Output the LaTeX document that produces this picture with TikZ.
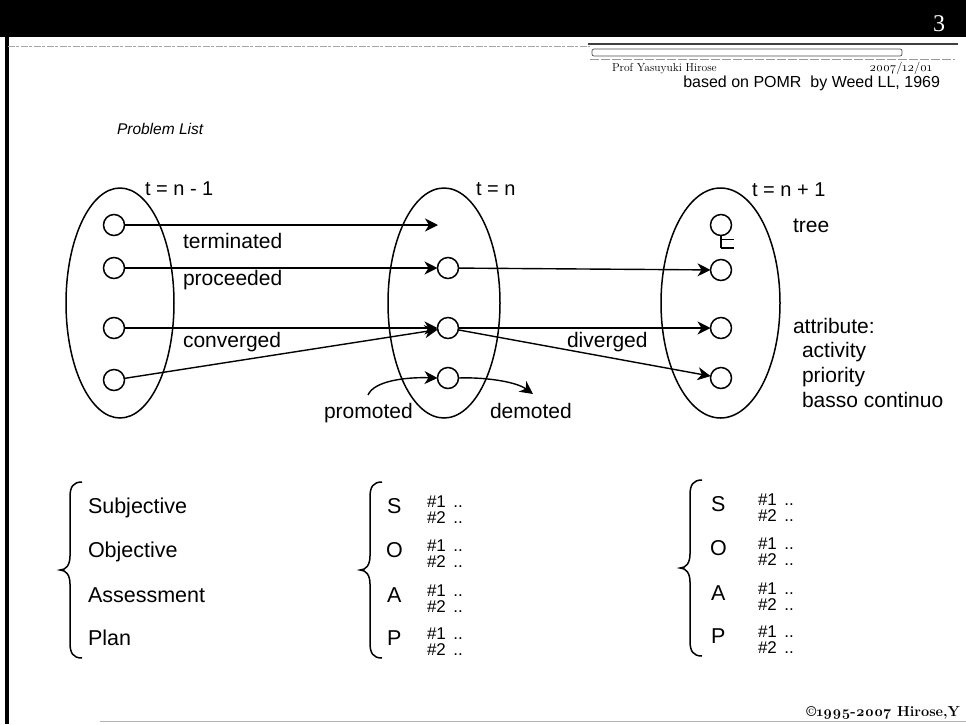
\documentclass[tikz,border=0pt]{standalone}
\usepackage{fontspec}
\setmainfont{Liberation Sans}
\newfontfamily\hdrfont{Liberation Serif}
\newfontfamily\numfont[Numbers=OldStyle]{Latin Modern Roman}
\usetikzlibrary{shapes.geometric,arrows.meta}

\begin{document}
\begin{tikzpicture}[x=1pt,y=-1pt,
  every node/.style={inner sep=0pt,outer sep=0pt},
  phase/.style={ellipse,draw,line width=1.5pt,minimum width=#1,minimum height=230pt},
  item/.style={circle,draw,line width=1.5pt,minimum size=21pt,fill=white},
  flow/.style={line width=1.4pt,-{Stealth[length=13pt,width=13pt,inset=4pt]}},
  lbl/.style={font=\fontsize{21}{25}\selectfont,anchor=base west},
  tlbl/.style={font=\fontsize{20}{24}\selectfont,anchor=base west},
  soap/.style={font=\fontsize{21.5}{25}\selectfont,anchor=base west},
  idx/.style={font=\fontsize{17}{19}\selectfont,anchor=base west},
  pics/curly/.style={code={
    \draw[line width=1.5pt]
      (22,-88) .. controls (13,-88) and (10,-83) .. (10,-73)
      -- (10,-14) .. controls (10,-5) and (6,0) .. (0,0)
      .. controls (6,0) and (10,5) .. (10,14)
      -- (10,73) .. controls (10,83) and (13,88) .. (22,88);
  }}
]
\useasboundingbox (0,0) rectangle (966,724);

% header band and page frame
\fill (0,0) rectangle (966,37);
\node[text=white,font=\hdrfont\fontsize{24}{26}\selectfont,anchor=base east] (pg) at (945,31) {3};
\fill (5,37) rectangle (8.5,724);
\draw[gray!70,line width=0.8pt,dash pattern=on 7pt off 1pt on 3pt off 2pt] (8,46) -- (590,46);
\draw[black!75,line width=1.8pt] (588,44) -- (958,44);
\draw[black!70,line width=0.7pt,rounded corners=2pt] (592,49) rectangle (902,56);
\draw[gray!80,line width=0.6pt,dash pattern=on 9pt off 2pt] (590,59.5) -- (955,59.5);
\draw[gray!60,line width=1pt] (100,721) -- (966,721);

\node[font=\numfont\fontsize{11.5}{13}\selectfont,anchor=base west] (auth) at (612,71) {Prof Yasuyuki Hirose};
\node[font=\numfont\fontsize{12.5}{14}\selectfont,anchor=base east] (date) at (932,71) {2007/12/01};
\node[font=\fontsize{16}{19}\selectfont,anchor=base east] (src) at (940,87) {based on POMR\ \ by Weed LL, 1969};
\node[font=\numfont\bfseries\fontsize{14.5}{17}\selectfont,anchor=base east] (copy) at (960,716) {\textcopyright 1995-2007 Hirose,Y};

\node[font=\itshape\fontsize{15.5}{18}\selectfont,anchor=base west] (title) at (117,134) {Problem List};

% three time slices
\node[phase=108pt] (e1) at (120,303) {};
\node[phase=112pt] (e2) at (444,303) {};
\node[phase=119pt] (e3) at (720.5,303) {};

\node[tlbl] (t1) at (145,195) {t = n - 1};
\node[tlbl] (t2) at (476,195) {t = n};
\node[tlbl] (t3) at (752,196) {t = n + 1};

% problems
\node[item] (l1) at (114,225) {};
\node[item] (l2) at (114,268) {};
\node[item] (l3) at (114,328) {};
\node[item] (l4) at (114,380) {};
\node[item] (m1) at (448,268) {};
\node[item] (m2) at (448,328) {};
\node[item] (m3) at (448,378) {};
\node[item] (r0) at (721,225) {};
\node[item] (r1) at (721,270) {};
\node[item] (r2) at (721,328) {};
\node[item] (r3) at (721,378) {};

% tree mark under the top problem
\coordinate (tk) at (721,248);
\draw[line width=1.2pt] (r0.south) -- (tk);
\draw[line width=1.2pt] (721,239.5) -- (734,239.5);
\draw[line width=1.2pt] (tk) -- (734,248);

% transitions
\coordinate (endterm) at (438,225);
\draw[flow] (l1) -- (endterm);
\draw[flow] (l2) -- (m1);
\draw[flow] (l3) -- (m2);
\draw[flow] (l4) -- (m2);
\draw[flow] (m1) -- (r1);
\draw[flow] (m2) -- (r2);
\draw[flow] (m2) -- (r3);

\coordinate (pin) at (368,395);
\coordinate (pout) at (533,394);
\draw[flow] (pin) .. controls (374,381) and (405,377) .. (m3.west);
\draw[flow] (m3.east) .. controls (482,377) and (515,381) .. (pout);

\node[lbl] (lt) at (183,248) {terminated};
\node[lbl] (lp) at (183,285) {proceeded};
\node[lbl] (lc) at (183,347) {converged};
\node[lbl] (ld) at (567,347) {diverged};
\node[lbl] (lpr) at (324,418) {promoted};
\node[lbl] (lde) at (490,418) {demoted};

\node[lbl] (tree) at (793,232) {tree};
\node[lbl] (attr) at (793,333) {attribute:};
\node[lbl] (a1) at (802,357) {activity};
\node[lbl] (a2) at (802,382) {priority};
\node[lbl] (a3) at (802,407) {basso continuo};

% SOAP structure
\pic at (60,570) {curly};
\node[soap] (sj) at (88,513) {Subjective};
\node[soap] (ob) at (88,557) {Objective};
\node[soap] (as) at (88,602) {Assessment};
\node[soap] (pl) at (88,645) {Plan};

\pic at (360,570) {curly};
\node[soap] (ms) at (387,513) {S};
\node[soap] (mo) at (386,557) {O};
\node[soap] (ma) at (387,602) {A};
\node[soap] (mp) at (387,645) {P};
\foreach \b/\n in {513/s,557/o,602/a,645/p}{
  \node[idx] (m\n1) at (427,\b-6) {\#1 \,..};
  \node[idx] (m\n2) at (427,\b+10) {\#2 \,..};
}

\pic at (680,568) {curly};
\node[soap] (rs) at (711,511) {S};
\node[soap] (ro) at (710,555) {O};
\node[soap] (ra) at (711,600) {A};
\node[soap] (rp) at (711,643) {P};
\foreach \b/\n in {511/s,555/o,600/a,643/p}{
  \node[idx] (r\n1) at (758,\b-6) {\#1 \,..};
  \node[idx] (r\n2) at (758,\b+10) {\#2 \,..};
}
\end{tikzpicture}
\end{document}
